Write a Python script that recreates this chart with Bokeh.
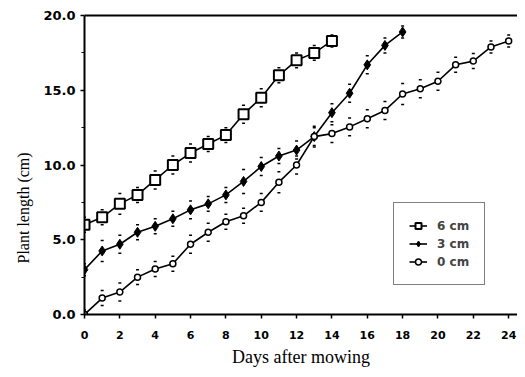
from bokeh.plotting import figure
from bokeh.models import (Range1d, FixedTicker, LinearAxis, Legend, LegendItem,
                          ColumnDataSource, Title)
from bokeh.embed import file_html
from bokeh.resources import INLINE

# ---- data ----
days_6 = list(range(0, 15))
len_6 = [6.0, 6.5, 7.4, 8.0, 9.0, 10.0, 10.8, 11.4, 12.0, 13.4, 14.5, 16.0, 17.0, 17.5, 18.3]
err_6 = [0.5, 0.5, 0.7, 0.5, 0.6, 0.6, 0.6, 0.5, 0.5, 0.6, 0.6, 0.5, 0.5, 0.5, 0.4]

days_3 = list(range(0, 19))
len_3 = [3.0, 4.25, 4.7, 5.5, 5.9, 6.4, 7.0, 7.4, 8.0, 8.9, 9.9, 10.6, 11.0, 11.9,
         13.5, 14.8, 16.7, 18.0, 18.9]
err_3 = [0.4, 0.7, 0.6, 0.5, 0.5, 0.5, 0.6, 0.5, 0.5, 0.8, 0.6, 0.5, 0.6, 0.7,
         0.6, 0.6, 0.6, 0.5, 0.4]

days_0 = list(range(0, 25))
len_0 = [0.0, 1.1, 1.5, 2.5, 3.05, 3.4, 4.7, 5.5, 6.2, 6.6, 7.5, 8.85, 10.0, 11.9,
         12.1, 12.55, 13.1, 13.65, 14.75, 15.1, 15.6, 16.7, 16.95, 17.9, 18.3]
err_0 = [0.3, 0.5, 0.6, 0.5, 0.5, 0.5, 0.6, 0.6, 0.5, 0.5, 0.6, 0.7, 0.6, 0.6,
         0.6, 0.6, 0.6, 0.6, 0.7, 0.6, 0.6, 0.5, 0.5, 0.4, 0.4]

x_ticks = list(range(0, 25, 2))
y_ticks = [0, 5, 10, 15, 20]
y_tick_labels = {0: "0.0", 5: "5.0", 10: "10.0", 15: "15.0", 20: "20.0"}
legend_labels = ["6 cm", "3 cm", "0 cm"]
x_title = "Days after mowing"
y_title = "Plant length (cm)"

p = figure(width=517, height=369, output_backend="svg", toolbar_location=None,
           x_range=Range1d(0, 24.5), y_range=Range1d(0, 20),
           min_border_left=84, min_border_right=0, min_border_top=15,
           min_border_bottom=53)
p.grid.visible = False
p.outline_line_color = None
p.background_fill_color = "white"

tick_font = "DejaVu Sans"
for ax in (p.xaxis[0], p.yaxis[0]):
    ax.axis_line_color = "black"
    ax.axis_line_width = 2
    ax.major_tick_line_color = "black"
    ax.major_tick_line_width = 1.5
    ax.major_tick_out = 4
    ax.major_tick_in = 0
    ax.minor_tick_line_color = None
    ax.major_label_text_font = tick_font
    ax.major_label_text_font_style = "bold"
    ax.major_label_text_color = "black"
    ax.axis_label_text_font = "Liberation Serif"
    ax.axis_label_text_font_style = "normal"
    ax.axis_label_text_font_size = "18px"
    ax.axis_label_text_color = "black"

p.xaxis.major_label_text_font_size = "11px"
p.yaxis.major_label_text_font_size = "13px"
p.xaxis.ticker = FixedTicker(ticks=x_ticks)
p.yaxis.ticker = FixedTicker(ticks=y_ticks, minor_ticks=[2.5, 7.5, 12.5, 17.5])
p.yaxis.minor_tick_line_color = "black"
p.yaxis.minor_tick_out = 3
p.yaxis.minor_tick_in = 0
p.yaxis.major_label_overrides = y_tick_labels
p.xaxis.axis_label = x_title
p.xaxis.major_label_standoff = 12
p.xaxis.axis_label_standoff = 5
p.yaxis.major_label_standoff = 5

top = LinearAxis(ticker=FixedTicker(ticks=[]), axis_line_color="black",
                 axis_line_width=2, major_tick_line_color=None,
                 minor_tick_line_color=None)
p.add_layout(top, "above")

# y title as a left-side title, starting where the original starts
p.add_layout(Title(text=y_title, align="left", offset=51,
                   text_font="Liberation Serif", text_font_size="16px",
                   text_font_style="normal", text_color="black",
                   standoff=17), "left")

def series(xs, ys, es, marker, size, fill, lw):
    src = ColumnDataSource(dict(x=xs, y=ys,
                                lo=[a - b for a, b in zip(ys, es)],
                                hi=[a + b for a, b in zip(ys, es)]))
    p.scatter("x", "lo", source=src, marker="dash", size=3, line_color="black",
              line_width=1.5)
    p.scatter("x", "hi", source=src, marker="dash", size=3, line_color="black",
              line_width=1.5)
    ln = p.line("x", "y", source=src, line_color="black", line_width=1.6)
    mk = p.scatter("x", "y", source=src, marker=marker, size=size,
                   fill_color=fill, line_color="black", line_width=lw)
    return ln, mk

l6, m6 = series(days_6, len_6, err_6, "square", 10, "white", 2)
l3, m3 = series(days_3, len_3, err_3, "diamond", 10, "black", 1)
l0, m0 = series(days_0, len_0, err_0, "circle", 6, "white", 1.5)

legend = Legend(items=[LegendItem(label=legend_labels[0], renderers=[l6, m6]),
                       LegendItem(label=legend_labels[1], renderers=[l3, m3]),
                       LegendItem(label=legend_labels[2], renderers=[l0, m0])],
                location=(309, 29), border_line_color="black",
                border_line_width=1.5, label_text_font=tick_font,
                label_text_font_style="bold", label_text_font_size="12px",
                glyph_width=18, glyph_height=15, label_height=15,
                spacing=3, padding=15, margin=0, label_standoff=10,
                background_fill_alpha=1)
p.add_layout(legend, "center")

open("out.html", "w").write(file_html(p, INLINE))
